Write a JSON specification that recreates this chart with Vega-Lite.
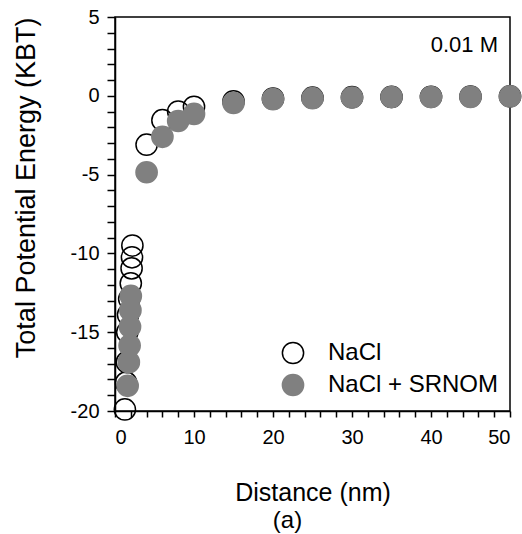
{
  "$schema": "https://vega.github.io/schema/vega-lite/v6.json",
  "width": 395,
  "height": 394,
  "autosize": {"type": "none"},
  "padding": {"left": 115, "top": 17, "right": 12, "bottom": 123},
  "background": "white",
  "title": {"text": "(a)", "orient": "bottom", "anchor": "middle", "frame": "group", "dx": -25, "offset": 4, "fontSize": 24, "font": "Liberation Sans", "fontWeight": "normal", "color": "black"},
  "config": {
    "view": {"stroke": "black", "strokeWidth": 1.5},
    "axis": {"grid": false, "ticks": true, "labelOverlap": false, "labelFont": "Liberation Sans", "labelFontSize": 20, "labelColor": "black", "titleFont": "Liberation Sans", "titleFontSize": 25, "titleFontWeight": "normal", "titleColor": "black", "domainColor": "black", "domainWidth": 1.5, "tickColor": "black", "tickWidth": 1.5},
    "legend": {"labelFont": "Liberation Sans", "labelFontSize": 24, "labelColor": "black", "labelLimit": 400}
  },
  "data": {"values": [
    {"distance": 1.25, "energy": -19.9, "series": "NaCl"},
    {"distance": 1.4, "energy": -18.2, "series": "NaCl"},
    {"distance": 1.5, "energy": -16.9, "series": "NaCl"},
    {"distance": 1.55, "energy": -15.0, "series": "NaCl"},
    {"distance": 1.65, "energy": -13.9, "series": "NaCl"},
    {"distance": 1.8, "energy": -12.9, "series": "NaCl"},
    {"distance": 2.0, "energy": -11.9, "series": "NaCl"},
    {"distance": 2.1, "energy": -10.95, "series": "NaCl"},
    {"distance": 2.15, "energy": -10.25, "series": "NaCl"},
    {"distance": 2.2, "energy": -9.5, "series": "NaCl"},
    {"distance": 4, "energy": -3.1, "series": "NaCl"},
    {"distance": 6, "energy": -1.55, "series": "NaCl"},
    {"distance": 8, "energy": -1.0, "series": "NaCl"},
    {"distance": 10, "energy": -0.7, "series": "NaCl"},
    {"distance": 15, "energy": -0.35, "series": "NaCl"},
    {"distance": 20, "energy": -0.18, "series": "NaCl"},
    {"distance": 25, "energy": -0.12, "series": "NaCl"},
    {"distance": 30, "energy": -0.09, "series": "NaCl"},
    {"distance": 35, "energy": -0.07, "series": "NaCl"},
    {"distance": 40, "energy": -0.06, "series": "NaCl"},
    {"distance": 45, "energy": -0.05, "series": "NaCl"},
    {"distance": 50, "energy": -0.03, "series": "NaCl"},
    {"distance": 1.6, "energy": -18.4, "series": "NaCl + SRNOM"},
    {"distance": 1.75, "energy": -16.9, "series": "NaCl + SRNOM"},
    {"distance": 1.85, "energy": -15.85, "series": "NaCl + SRNOM"},
    {"distance": 1.9, "energy": -14.65, "series": "NaCl + SRNOM"},
    {"distance": 1.95, "energy": -13.6, "series": "NaCl + SRNOM"},
    {"distance": 2.0, "energy": -12.7, "series": "NaCl + SRNOM"},
    {"distance": 4, "energy": -4.85, "series": "NaCl + SRNOM"},
    {"distance": 6, "energy": -2.6, "series": "NaCl + SRNOM"},
    {"distance": 8, "energy": -1.6, "series": "NaCl + SRNOM"},
    {"distance": 10, "energy": -1.15, "series": "NaCl + SRNOM"},
    {"distance": 15, "energy": -0.45, "series": "NaCl + SRNOM"},
    {"distance": 20, "energy": -0.21, "series": "NaCl + SRNOM"},
    {"distance": 25, "energy": -0.15, "series": "NaCl + SRNOM"},
    {"distance": 30, "energy": -0.11, "series": "NaCl + SRNOM"},
    {"distance": 35, "energy": -0.08, "series": "NaCl + SRNOM"},
    {"distance": 40, "energy": -0.08, "series": "NaCl + SRNOM"},
    {"distance": 45, "energy": -0.07, "series": "NaCl + SRNOM"},
    {"distance": 50, "energy": -0.04, "series": "NaCl + SRNOM"}
  ]},
  "layer": [
    {
      "mark": {"type": "point", "shape": "circle", "size": 450, "strokeWidth": 1.5, "opacity": 1, "fillOpacity": 1, "clip": false},
      "encoding": {
        "x": {"field": "distance", "type": "quantitative", "scale": {"domain": [0, 50], "nice": false, "zero": false},
          "axis": {"title": "Distance (nm)", "values": [0,2,4,6,8,10,12,14,16,18,20,22,24,26,28,30,32,34,36,38,40,42,44,46,48,50],
            "tickCount": 60, "ticks": true,
            "labelExpr": "datum.value % 10 === 0 ? '' + datum.value : ''",
            "labelOverlap": false, "labelBound": false,
            "tickSize": 6,
            "labelPadding": 10, "titlePadding": 33}},
        "y": {"field": "energy", "type": "quantitative", "scale": {"domain": [-20, 5], "nice": false, "zero": false},
          "axis": {"title": "Total Potential Energy (KBT)", "titleAnchor": "end", "titleFontSize": 27,
            "values": [-20,-19,-18,-17,-16,-15,-14,-13,-12,-11,-10,-9,-8,-7,-6,-5,-4,-3,-2,-1,0,1,2,3,4,5],
            "tickCount": 60, "ticks": true,
            "labelExpr": "datum.value % 5 === 0 ? '' + datum.value : ''",
            "labelOverlap": false, "labelBound": false,
            "tickSize": 8,
            "labelPadding": 8, "titlePadding": 30}},
        "fill": {"field": "series", "type": "nominal", "scale": {"domain": ["NaCl", "NaCl + SRNOM"], "range": ["transparent", "#808080"]},
          "legend": {"title": null, "orient": "none", "legendX": 166, "legendY": 324, "padding": 0, "symbolSize": 450, "symbolStrokeWidth": 1.5, "rowPadding": 4, "labelOffset": 23}},
        "stroke": {"field": "series", "type": "nominal", "scale": {"domain": ["NaCl", "NaCl + SRNOM"], "range": ["black", "#808080"]}, "legend": {"title": null}}
      }
    },
    {
      "data": {"values": [{"label": "0.01 M"}]},
      "mark": {"type": "text", "align": "right", "baseline": "top", "dx": -12, "dy": 18, "font": "Liberation Sans", "fontSize": 22, "fill": "black"},
      "encoding": {"text": {"field": "label"}, "x": {"datum": 50}, "y": {"datum": 5}}
    }
  ]
}
